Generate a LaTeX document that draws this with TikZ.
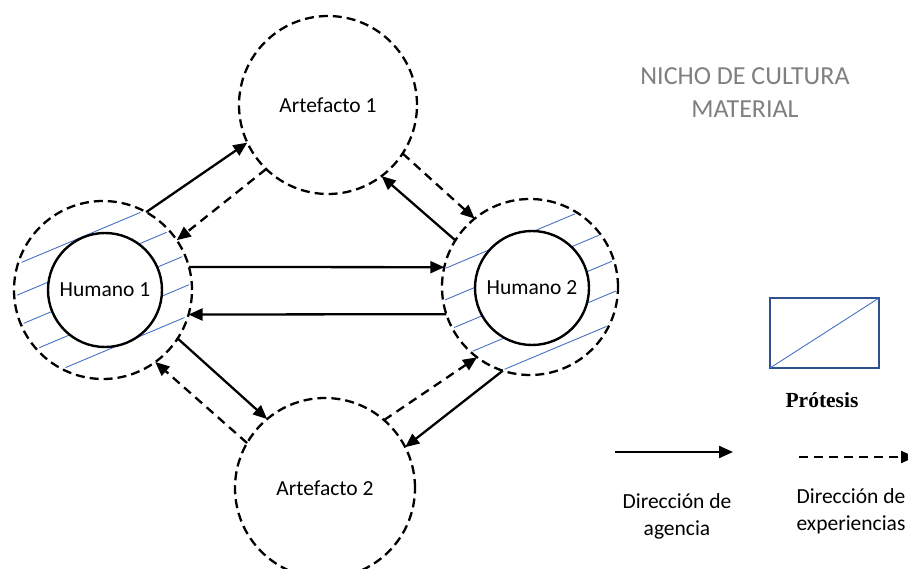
\documentclass[tikz,border=0pt]{standalone}
\usepackage{fontspec}
\setmainfont{Carlito}
\newfontfamily\protfont{Liberation Serif}
\usetikzlibrary{arrows.meta, positioning}
\definecolor{hatchblue}{HTML}{4472C4}
\definecolor{boxblue}{HTML}{2F528F}
\definecolor{titlegray}{HTML}{7F7F7F}

\begin{document}
\begin{tikzpicture}[x=1pt,y=-1pt,>={Triangle[length=14pt,width=12pt]},
  every node/.style={font=\fontsize{21.5}{27}\selectfont},
  outer/.style={draw,circle,line width=2.3pt,dash pattern=on 9pt off 5pt,
    minimum size=178pt,inner sep=0pt,outer sep=0pt},
  inner/.style={draw,circle,line width=2.4pt,fill=white,minimum size=114pt,
    inner sep=0pt,outer sep=0pt},
  agencia/.style={->,line width=2.3pt},
  experiencia/.style={->,line width=2.3pt,dash pattern=on 9pt off 6pt},
  hatch/.style={hatchblue,line width=0.9pt}]
 \useasboundingbox (0,0) rectangle (908,569);
 % circulos exteriores
 \node[outer] (A1) at (328,105) {Artefacto 1};
 \node[outer] (H1) at (103,290) {};
 \node[outer,minimum size=176pt] (H2) at (530,287) {};
 \node[outer,minimum size=180pt] (A2) at (325,488) {Artefacto 2};
 % rayado de las protesis
 \begin{scope}
  \clip (H1.center) circle (86pt);
  \foreach \d in {-57,-28.5,0,28.5,57}
   \draw[hatch] ([shift={(112.8:\d pt)}]H1.center) ++(202.8:100pt) -- ++(22.8:200pt);
 \end{scope}
 \begin{scope}
  \clip (H2.center) circle (86pt);
  \foreach \d in {50,21,-8,-37,-66}
   \draw[hatch] ([shift={(112.8:\d pt)}]H2.center) ++(202.8:100pt) -- ++(22.8:200pt);
 \end{scope}
 \node[inner] (H1i) at (105,290) {Humano 1};
 \node[inner] (H2i) at (532,288) {Humano 2};
 % flechas
 \draw[agencia] (H1.61) -- (A1.205);
 \draw[experiencia] (A1.226) -- (H1.34);
 \draw[experiencia] (A1.327) -- (H2.129);
 \draw[agencia] (H2.148) -- (A1.307);
 \draw[agencia] (H1.15) -- (H2.167);
 \draw[agencia] (H2.198) -- (H1.344);
 \draw[agencia] (H1.327) -- (A2.130);
 \draw[experiencia] (A2.150) -- (H1.306);
 \draw[experiencia] (A2.49) -- (H2.233);
 \draw[agencia] (H2.252) -- (A2.27);
 % titulo
 \node[titlegray,align=center,font=\fontsize{26}{33}\selectfont] (titulo)
   at (745,93) {NICHO DE CULTURA\\MATERIAL};
 % leyenda
 \node[draw=boxblue,line width=2.2pt,minimum width=109pt,minimum height=70pt,
   inner sep=0pt,outer sep=0pt] (prot) at (824.5,333) {};
 \draw[hatch] (prot.south west) -- (prot.north east);
 \node[font=\protfont\bfseries\fontsize{21.5}{25}\selectfont] (protlbl)
   at (822,400) {Prótesis};
 \coordinate (ag0) at (615,452);
 \coordinate (ag1) at (733,452);
 \draw[agencia] (ag0) -- (ag1);
 \node[align=center] (aglbl) at (677,516) {Dirección de\\agencia};
 \coordinate (ex0) at (799,457);
 \coordinate (ex1) at (915,457);
 \draw[experiencia] (ex0) -- (ex1);
 \node[align=center] (exlbl) at (851,511) {Dirección de\\experiencias};
\end{tikzpicture}
\end{document}
